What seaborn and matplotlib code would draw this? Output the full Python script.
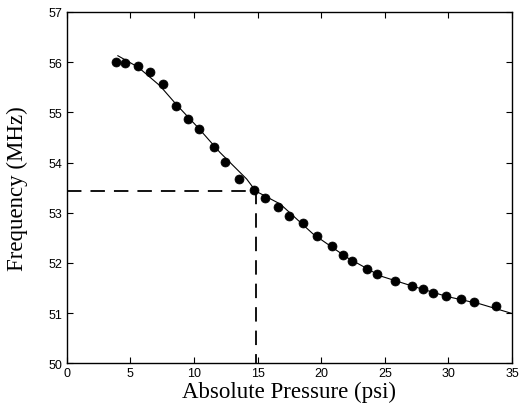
import matplotlib
matplotlib.use("Agg")
import matplotlib.pyplot as plt
import numpy as np
import pandas as pd
import seaborn as sns

# Measured points
pressure = [3.85, 4.6, 5.59, 6.53, 7.53, 8.55, 9.52, 10.41, 11.54, 12.41, 13.56, 14.69,
            15.6, 16.57, 17.5, 18.6, 19.64, 20.82, 21.74, 22.45, 23.58, 24.42, 25.8,
            27.17, 28.03, 28.77, 29.79, 30.95, 31.97, 33.7]
frequency = [56.0, 55.98, 55.92, 55.80, 55.57, 55.12, 54.86, 54.67, 54.30, 54.01, 53.68, 53.46,
             53.30, 53.12, 52.94, 52.79, 52.54, 52.33, 52.15, 52.04, 51.88, 51.77, 51.63,
             51.53, 51.48, 51.40, 51.34, 51.27, 51.22, 51.14]

# Fitted curve
fit_p = [4.0, 5.61, 7.32, 8.63, 10.3, 12.04, 14.14, 14.85, 16.79, 19.38, 22.0, 24.63,
         27.25, 29.87, 32.5, 35.0]
fit_f = [56.13, 55.90, 55.53, 55.15, 54.70, 54.20, 53.67, 53.43, 53.17, 52.57, 52.11, 51.74,
         51.53, 51.33, 51.18, 50.99]

# Reference reading
p_ref = 14.85
f_ref = 53.43

sns.set_style("ticks")
plt.rcParams['font.family'] = ['Liberation Sans', 'DejaVu Sans']
plt.rcParams['text.color'] = 'black'
plt.rcParams['axes.labelcolor'] = 'black'
plt.rcParams['xtick.color'] = 'black'
plt.rcParams['ytick.color'] = 'black'
plt.rcParams['axes.edgecolor'] = 'black'

fig = plt.figure(figsize=(5.22, 4.06), dpi=100)
ax = fig.add_axes([0.128, 0.103, 0.853, 0.865])

df_pts = pd.DataFrame({'p': pressure, 'f': frequency})
df_fit = pd.DataFrame({'p': fit_p, 'f': fit_f})

sns.lineplot(data=df_fit, x='p', y='f', ax=ax, color='black', linewidth=0.8,
             sort=False, estimator=None)
sns.scatterplot(data=df_pts, x='p', y='f', ax=ax, color='black', s=42,
                edgecolor='black', linewidth=0.5, zorder=3)

ax.plot([0, p_ref, p_ref], [f_ref, f_ref, 50], color='black', linewidth=1.3,
        dashes=(8, 5))

ax.set_xlim(0, 35)
ax.set_ylim(50, 57)
ax.set_xticks(np.arange(0, 36, 5))
ax.set_yticks(np.arange(50, 58, 1))
ax.tick_params(direction='in', top=True, right=True, length=4, width=0.8,
               labelsize=9, pad=3)
for sp in ax.spines.values():
    sp.set_linewidth(1.0)
    sp.set_visible(True)

ax.set_xlabel('Absolute Pressure (psi)', family='Liberation Serif', fontsize=16.5, labelpad=1)
ax.set_ylabel('Frequency (MHz)', family='Liberation Serif', fontsize=16.5, labelpad=15)

fig.savefig('out.png', dpi=100)
